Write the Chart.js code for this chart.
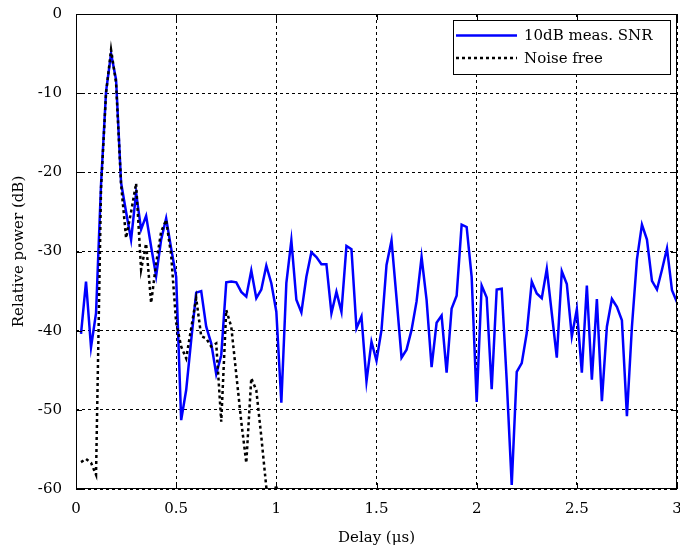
<!DOCTYPE html>
<html><head><meta charset="utf-8">
<script src="https://cdn.jsdelivr.net/npm/chart.js@4.4.1/dist/chart.umd.min.js"></script>
<style>html,body{margin:0;padding:0;background:#fff}#wrap{width:680px;height:550px}</style>
</head><body><div id="wrap"><canvas id="c" width="680" height="550"></canvas></div>
<script>
// Delay sample instants (µs)
const delays = [0.025,0.05,0.075,0.1,0.125,0.15,0.175,0.2,0.225,0.25,
0.275,0.3,0.325,0.35,0.375,0.4,0.425,0.45,0.475,0.5,
0.525,0.55,0.575,0.6,0.625,0.65,0.675,0.7,0.725,0.75,
0.775,0.8,0.825,0.85,0.875,0.9,0.925,0.95,0.975,1.0,
1.025,1.05,1.075,1.1,1.125,1.15,1.175,1.2,1.225,1.25,
1.275,1.3,1.325,1.35,1.375,1.4,1.425,1.45,1.475,1.5,
1.525,1.55,1.575,1.6,1.625,1.65,1.675,1.7,1.725,1.75,
1.775,1.8,1.825,1.85,1.875,1.9,1.925,1.95,1.975,2.0,
2.025,2.05,2.075,2.1,2.125,2.15,2.175,2.2,2.225,2.25,
2.275,2.3,2.325,2.35,2.375,2.4,2.425,2.45,2.475,2.5,
2.525,2.55,2.575,2.6,2.625,2.65,2.675,2.7,2.725,2.75,
2.775,2.8,2.825,2.85,2.875,2.9,2.925,2.95,2.975,3.0];

// Relative power (dB), 10 dB measured SNR
const snr10dB = [-40.4,-33.8,-42.1,-37.8,-21.5,-9.8,-5.0,-8.3,-21.3,-25.0,
-28.5,-22.6,-27.2,-25.5,-29.4,-33.1,-28.5,-25.8,-29.6,-33.2,
-51.3,-47.5,-41.2,-35.2,-35.0,-39.5,-41.6,-45.5,-43.1,-33.9,
-33.8,-33.9,-35.1,-35.7,-32.4,-35.9,-34.8,-31.8,-34.0,-37.6,
-49.1,-34.0,-28.6,-36.1,-37.7,-33.2,-30.1,-30.7,-31.6,-31.6,
-37.8,-35.1,-37.6,-29.3,-29.7,-39.7,-38.2,-46.4,-41.4,-43.8,
-39.9,-31.7,-28.6,-35.9,-43.4,-42.4,-39.9,-36.3,-30.7,-36.1,
-44.6,-39.0,-38.1,-45.3,-37.2,-35.6,-26.6,-26.9,-33.2,-49.0,
-34.3,-35.8,-47.4,-34.8,-34.7,-46.3,-59.5,-45.2,-44.1,-40.3,
-33.8,-35.3,-35.9,-32.2,-37.8,-43.4,-32.5,-34.1,-40.7,-37.3,
-45.3,-34.3,-46.2,-36.0,-48.9,-39.5,-36.0,-37.0,-38.7,-50.8,
-39.5,-31.0,-26.6,-28.5,-33.7,-34.8,-32.3,-29.6,-34.9,-36.4];

// Relative power (dB), noise free (falls below the axis after ~1 µs)
const noiseFree = [-56.6,-56.2,-56.7,-58.2,-22.0,-10.0,-4.5,-8.7,-21.5,-28.3,
-25.0,-21.4,-32.3,-29.0,-36.5,-31.5,-27.5,-26.0,-30.5,-39.0,
-42.0,-43.5,-39.7,-35.9,-40.7,-41.0,-42.0,-41.6,-51.5,-37.4,
-39.5,-45.5,-51.5,-56.7,-46.0,-47.5,-53.4,-59.8,-62.0,-59.5,
-66.0];

const xTicks = [0, 0.5, 1, 1.5, 2, 2.5, 3];
const yTicks = [-60, -50, -40, -30, -20, -10, 0];
const seriesLabels = ['10dB meas. SNR', 'Noise free'];
const xTitle = 'Delay (μs)';
const yTitle = 'Relative power (dB)';

const FONT = "'DejaVu Serif', serif";
Chart.defaults.font.family = FONT;
Chart.defaults.font.size = 15;
Chart.defaults.color = '#000';

const toXY = (vals) => vals.map((v, i) => ({x: delays[i], y: v}));

const frameTicks = {
  id: 'frameTicks',
  afterDatasetsDraw(chart) {
    const {ctx, chartArea: a, scales} = chart;
    ctx.save();
    ctx.setLineDash([]);
    ctx.strokeStyle = '#000';
    ctx.lineWidth = 1;
    ctx.beginPath();
    xTicks.forEach(v => {
      const px = Math.round(scales.x.getPixelForValue(v)) + 0.5;
      ctx.moveTo(px, a.bottom); ctx.lineTo(px, a.bottom - 6);
      ctx.moveTo(px, a.top); ctx.lineTo(px, a.top + 6);
    });
    yTicks.forEach(v => {
      const py = Math.round(scales.y.getPixelForValue(v)) + 0.5;
      ctx.moveTo(a.left, py); ctx.lineTo(a.left + 6, py);
      ctx.moveTo(a.right, py); ctx.lineTo(a.right - 6, py);
    });
    ctx.stroke();
    ctx.strokeRect(a.left + 0.5, a.top + 0.5, a.right - a.left - 1, a.bottom - a.top - 1);
    ctx.restore();
  }
};

const boxLegend = {
  id: 'boxLegend',
  afterDraw(chart) {
    const {ctx, chartArea: a} = chart;
    const w = 217, h = 54;
    const x = Math.round(a.right - 7 - w), y = Math.round(a.top + 6);
    ctx.save();
    ctx.fillStyle = '#fff';
    ctx.fillRect(x, y, w, h);
    ctx.strokeStyle = '#000';
    ctx.lineWidth = 1;
    ctx.setLineDash([]);
    ctx.strokeRect(x + 0.5, y + 0.5, w, h);
    chart.data.datasets.forEach((ds, i) => {
      const cy = y + 15.5 + i * 22.5;
      ctx.beginPath();
      ctx.setLineDash(ds.borderDash || []);
      ctx.strokeStyle = ds.borderColor;
      ctx.lineWidth = ds.borderWidth;
      ctx.moveTo(x + 3, cy); ctx.lineTo(x + 64, cy);
      ctx.stroke();
      ctx.setLineDash([]);
      ctx.fillStyle = '#000';
      ctx.font = "15px " + FONT;
      ctx.textBaseline = 'middle';
      ctx.textAlign = 'left';
      ctx.fillText(ds.label, x + 71, cy + 1);
    });
    ctx.restore();
  }
};

new Chart(document.getElementById('c'), {
  type: 'line',
  data: {
    datasets: [
      {label: seriesLabels[0], data: toXY(snr10dB), borderColor: '#0000ff', borderWidth: 2.5,
       pointRadius: 0, tension: 0, fill: false, order: 1},
      {label: seriesLabels[1], data: toXY(noiseFree), borderColor: '#000000', borderWidth: 2.5,
       borderDash: [3, 3], pointRadius: 0, tension: 0, fill: false, order: 0}
    ]
  },
  options: {
    responsive: false,
    animation: false,
    layout: {padding: {left: 0, right: 3, top: 14, bottom: 0}},
    plugins: {legend: {display: false}, tooltip: {enabled: false}},
    scales: {
      x: {
        type: 'linear', min: 0, max: 3,
        afterBuildTicks: s => { s.ticks = xTicks.map(v => ({value: v})); },
        afterFit: s => { s.height = 61; s.paddingLeft = 0; s.paddingRight = 0; },
        ticks: {padding: 11, maxRotation: 0, callback: v => String(v)},
        grid: {color: '#000', lineWidth: 1, drawTicks: false},
        border: {display: false, dash: [3, 3]},
        title: {display: true, text: xTitle, padding: {top: 0, bottom: 3}}
      },
      y: {
        type: 'linear', min: -60, max: 0,
        afterBuildTicks: s => { s.ticks = yTicks.map(v => ({value: v})); },
        afterFit: s => { s.width = 76; s.paddingTop = 0; s.paddingBottom = 0; },
        ticks: {padding: 14, callback: v => String(v)},
        grid: {color: '#000', lineWidth: 1, drawTicks: false},
        border: {display: false, dash: [3, 3]},
        title: {display: true, text: yTitle, padding: {top: 10, bottom: 0}}
      }
    }
  },
  plugins: [frameTicks, boxLegend]
});
</script>
</body></html>
